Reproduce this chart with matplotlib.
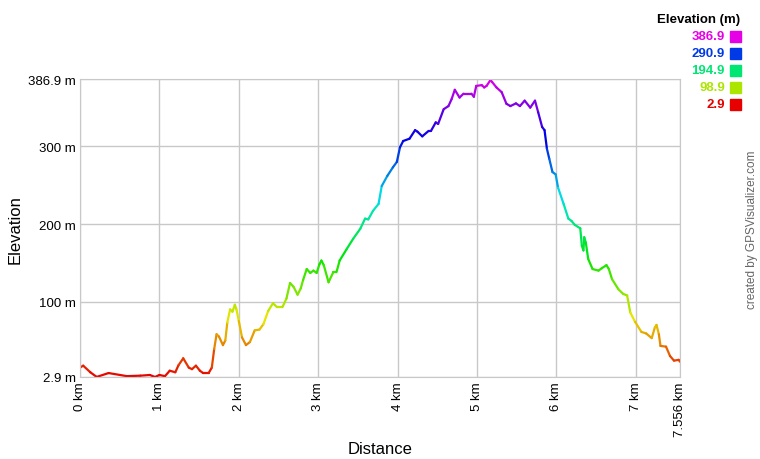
import numpy as np
import matplotlib.pyplot as plt
from matplotlib.collections import LineCollection
import colorsys

plt.rcParams['font.family'] = ['Liberation Sans', 'DejaVu Sans']

# Perfil de elevación (km, m)
dist_km = [0.00, 0.04, 0.13, 0.21, 0.36, 0.59, 0.76, 0.88, 0.945, 1.00, 1.07, 1.13,
           1.20, 1.24, 1.30, 1.37, 1.41, 1.46, 1.51, 1.55, 1.62, 1.66, 1.69, 1.72,
           1.75, 1.80, 1.83, 1.855, 1.89, 1.92, 1.95, 1.97, 2.00, 2.04, 2.09, 2.14,
           2.20, 2.26, 2.31, 2.37, 2.43, 2.48, 2.55, 2.60, 2.645, 2.69, 2.74, 2.78,
           2.81, 2.855, 2.90, 2.94, 2.98, 3.015, 3.04, 3.07, 3.13, 3.19, 3.23, 3.27,
           3.36, 3.44, 3.53, 3.59, 3.63, 3.69, 3.76, 3.80, 3.87, 3.94, 3.99, 4.03,
           4.07, 4.15, 4.22, 4.25, 4.31, 4.39, 4.42, 4.48, 4.51, 4.58, 4.64, 4.68,
           4.72, 4.78, 4.83, 4.93, 4.96, 4.99, 5.06, 5.09, 5.12, 5.17, 5.19, 5.245,
           5.31, 5.37, 5.42, 5.49, 5.54, 5.60, 5.67, 5.73, 5.77, 5.82, 5.85, 5.88,
           5.91, 5.95, 5.99, 6.02, 6.09, 6.15, 6.19, 6.23, 6.30, 6.32, 6.34, 6.35,
           6.37, 6.40, 6.455, 6.53, 6.57, 6.63, 6.66, 6.70, 6.78, 6.84, 6.89, 6.93,
           6.99, 7.07, 7.13, 7.20, 7.24, 7.26, 7.29, 7.31, 7.38, 7.43, 7.48, 7.54,
           7.556]
elev_m = [15, 17.5, 9, 3, 8, 4, 4.6, 5.5, 2.9, 5.5, 4, 11,
          9, 18, 27, 15, 13, 17.5, 11, 8, 8, 15, 39, 58,
          55, 44, 50, 73, 90, 87, 96, 90, 75, 54, 44, 48,
          63, 64, 71, 88, 98, 93, 93, 104, 124, 119, 109, 117,
          128, 142, 137, 140, 137, 148, 153, 147, 125, 138, 138, 153,
          168, 181, 194, 207, 206, 217, 226, 249, 262, 273, 280, 299,
          307, 310, 321, 319, 313, 320, 320, 331, 329, 348, 352, 361,
          373, 363, 368, 368, 364, 378, 379, 376, 378, 385.6, 383, 376,
          370, 355, 352, 355.5, 352, 359, 350, 359, 344, 325, 321, 297,
          284, 267, 264, 247, 226, 207, 204, 199, 194.5, 172, 166, 183,
          176, 155, 142, 140, 143, 147, 142, 129, 116, 110, 108, 86,
          74, 61, 59, 53, 67, 70, 58, 43, 42, 30, 24, 25,
          22.6]

y_min, y_max = 2.9, 386.9
legend_vals = [386.9, 290.9, 194.9, 98.9, 2.9]
y_ticks = [2.9, 100, 200, 300, 386.9]
y_labels = ["2.9 m", "100 m", "200 m", "300 m", "386.9 m"]
x_ticks = [0, 1, 2, 3, 4, 5, 6, 7, 7.556]
x_labels = ["0 km", "1 km", "2 km", "3 km", "4 km", "5 km", "6 km", "7 km", "7.556 km"]


def elev_color(e):
    frac = (e - y_min) / (y_max - y_min)
    return colorsys.hsv_to_rgb(frac * 300 / 360, 1.0, 0.9)


fig = plt.figure(figsize=(7.6, 4.6), dpi=100)
ax = fig.add_axes([80 / 760, 82 / 460, 600 / 760, 298 / 460])

x = np.array(dist_km)
y = np.array(elev_m)
pts = np.column_stack([x, y]).reshape(-1, 1, 2)
segs = np.concatenate([pts[:-1], pts[1:]], axis=1)
cols = [elev_color((y[i] + y[i + 1]) / 2) for i in range(len(y) - 1)]
lc = LineCollection(segs, colors=cols, linewidths=1.6, capstyle='round', joinstyle='round')
ax.add_collection(lc)

ax.set_xlim(0, 7.556)
ax.set_ylim(y_min, y_max)
ax.set_xticks(x_ticks)
ax.set_xticklabels(x_labels, rotation=90, fontsize=9.5)
ax.set_yticks(y_ticks)
ax.set_yticklabels(y_labels, fontsize=9.5)
ax.tick_params(length=0, pad=3)
ax.grid(True, color='#c8c8c8', linewidth=1)
ax.set_axisbelow(True)
for s in ax.spines.values():
    s.set_color('#c8c8c8')

# Títulos de los ejes
fig.text(380 / 760, 1 - 450 / 460, "Distance", ha='center', va='center', fontsize=12)
fig.text(15 / 760, 1 - 230 / 460, "Elevation", ha='center', va='center', fontsize=12,
         rotation=90)

# Leyenda de colores
fig.text(740 / 760, 1 - 20 / 460, "Elevation (m)", ha='right', va='center',
         fontsize=9.5, fontweight='bold')
for i, v in enumerate(legend_vals):
    yy = 1 - (37 + i * 17) / 460
    c = elev_color(v)
    fig.text(725 / 760, yy, f"{v:.1f}", ha='right', va='center', fontsize=9.5,
             fontweight='bold', color=c)
    fig.patches.append(plt.Rectangle((730 / 760, yy - 5.5 / 460), 11 / 760, 11 / 460,
                                     transform=fig.transFigure, color=c))

fig.text(752 / 760, 1 - 230 / 460, "created by GPSVisualizer.com", rotation=90,
         ha='center', va='center', fontsize=8.5, color='#666666')

fig.savefig("out.png", dpi=100)
